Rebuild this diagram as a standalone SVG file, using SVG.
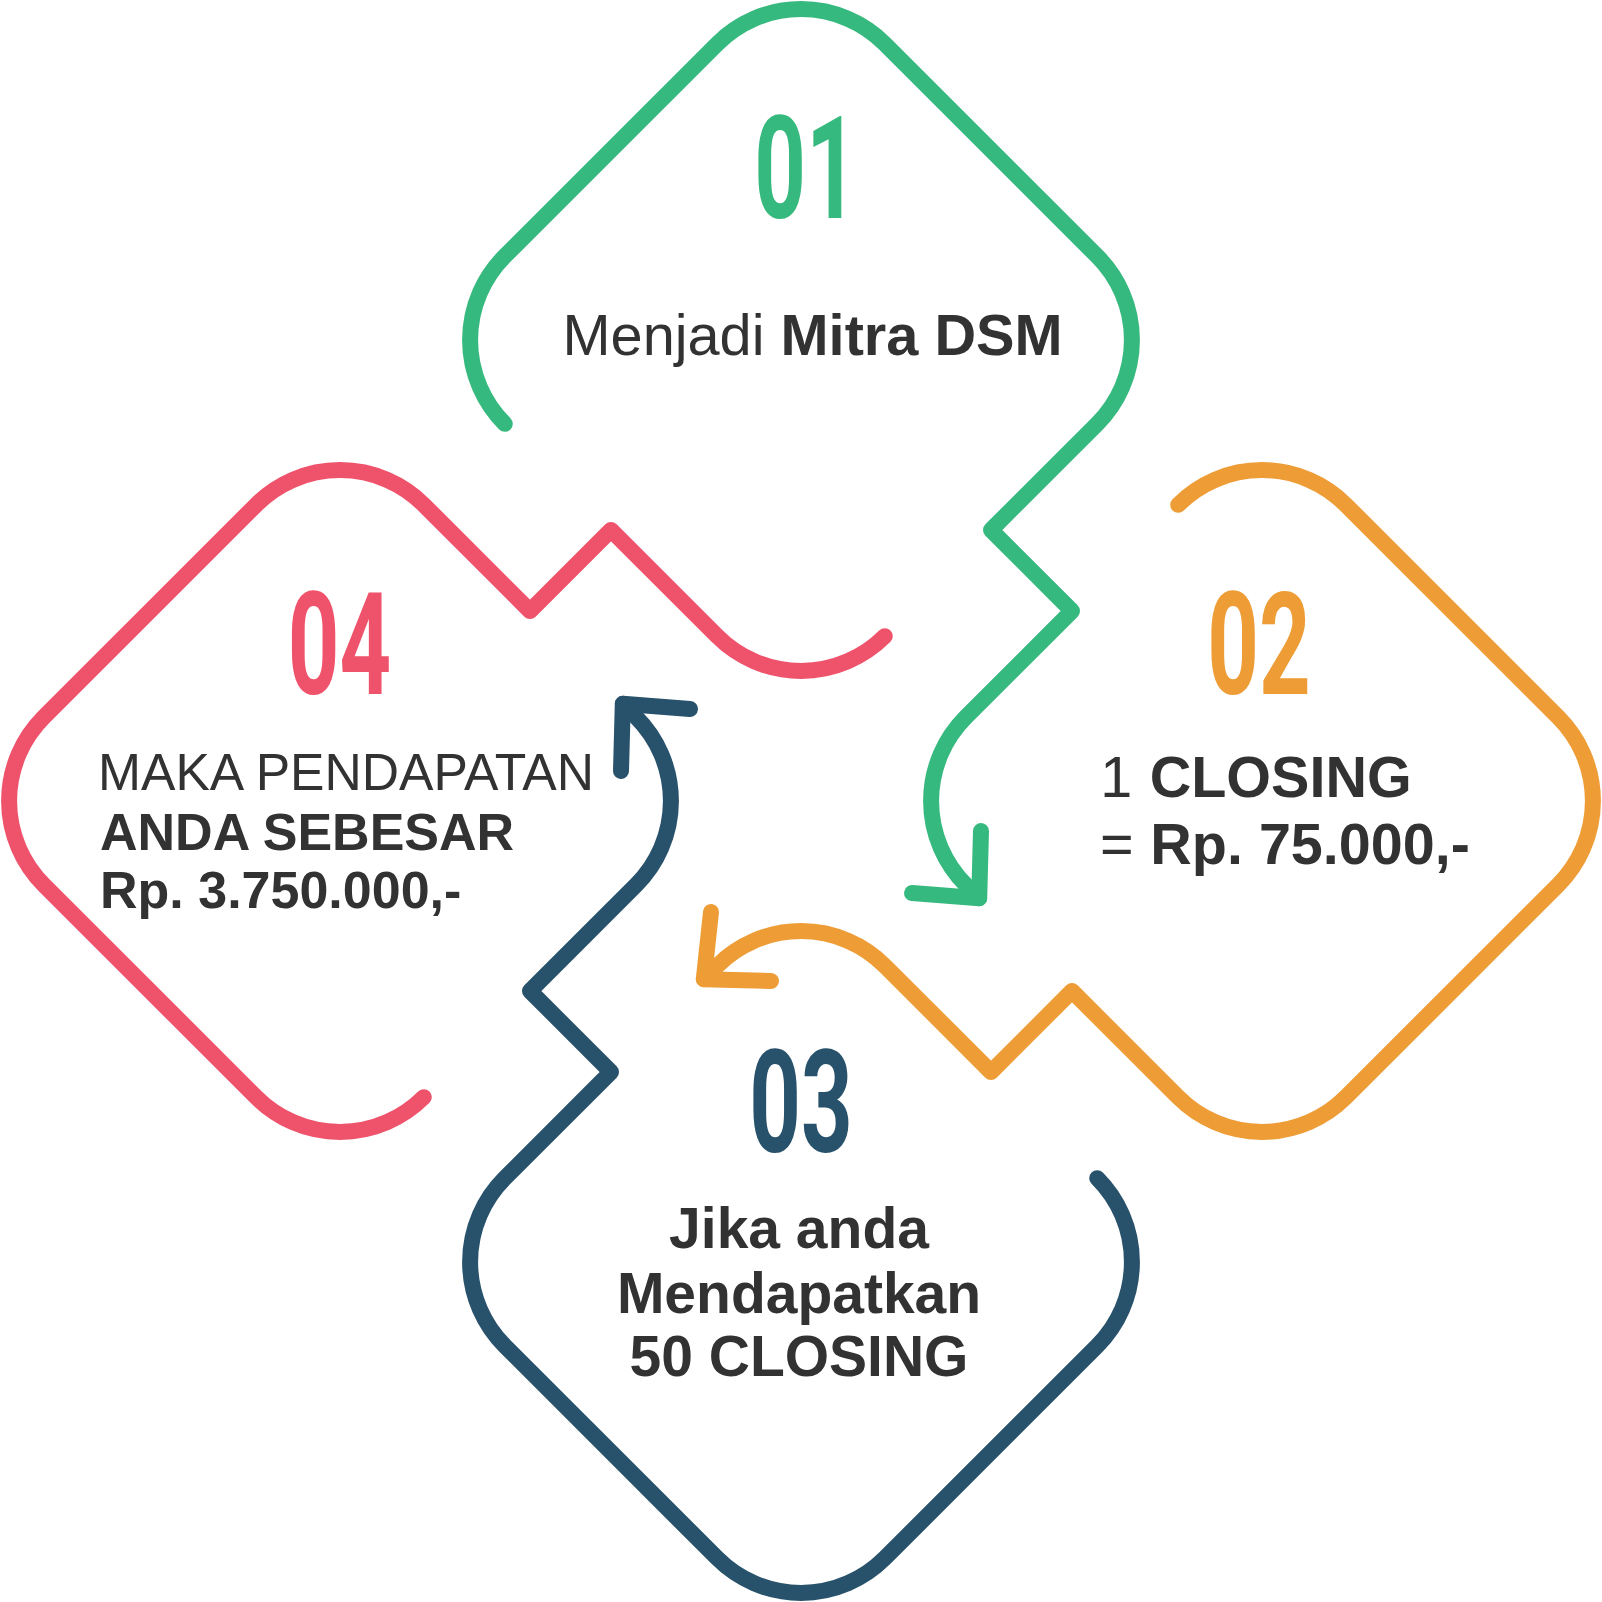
<svg xmlns="http://www.w3.org/2000/svg" width="1602" height="1602" viewBox="0 0 1602 1602">
<style>
.ln{fill:none;stroke-width:16;stroke-linecap:round;stroke-linejoin:round}
.g{stroke:#35B97E}.o{stroke:#EE9C36}.b{stroke:#28526B}.p{stroke:#EF536C}
.num{font-family:Roboto,"Liberation Sans",sans-serif;font-weight:700;font-size:143px;text-anchor:middle}
.t{font-family:"Liberation Sans",Arial,sans-serif;fill:#333232}
.r{font-weight:400}.bd{font-weight:700}
</style>
<rect width="1602" height="1602" fill="#ffffff"/>
<g id="node-01">
<path class="ln g" d="M504.8,423.8 A118.5,118.5 0 0 1 504.8,256.2 L717.2,43.8 A118.5,118.5 0 0 1 884.8,43.8 L1097.2,256.2 A118.5,118.5 0 0 1 1097.2,423.8 L991,530 L1072,611 L965.8,717.2 A118.5,118.5 0 0 0 965.8,884.8 L979.2,898.2"/>
<text class="num" fill="#35B97E" transform="translate(806,218) scale(0.63,1)">01</text>
<text class="t" font-size="57.7" x="562.5" y="354.5"><tspan class="r">Menjadi </tspan><tspan class="bd">Mitra DSM</tspan></text>
</g>
<g id="node-02">
<path class="ln o" d="M1178.2,504.8 A118.5,118.5 0 0 1 1345.8,504.8 L1558.2,717.2 A118.5,118.5 0 0 1 1558.2,884.8 L1345.8,1097.2 A118.5,118.5 0 0 1 1178.2,1097.2 L1072,991 L991,1072 L884.8,965.8 A118.5,118.5 0 0 0 717.2,965.8 L703.8,979.2"/>
<text class="num" fill="#EE9C36" transform="translate(1259,694) scale(0.63,1)">02</text>
<text class="t" font-size="57.5" y="797"><tspan class="r" x="1100.2">1</tspan><tspan class="bd" x="1149.7">CLOSING</tspan></text>
<text class="t" font-size="57.5" y="864"><tspan class="r" x="1100">=</tspan><tspan class="bd" x="1150.3">Rp. 75.000,-</tspan></text>
</g>
<g id="node-03">
<path class="ln b" d="M622.8,703.8 L636.2,717.2 A118.5,118.5 0 0 1 636.2,884.8 L530,991 L611,1072 L504.8,1178.2 A118.5,118.5 0 0 0 504.8,1345.8 L717.2,1558.2 A118.5,118.5 0 0 0 884.8,1558.2 L1097.2,1345.8 A118.5,118.5 0 0 0 1097.2,1178.2"/>
<text class="num" fill="#28526B" transform="translate(801,1152) scale(0.63,1)">03</text>
<g class="t bd" font-size="57" text-anchor="middle">
<text x="799" y="1248">Jika anda</text>
<text x="799" y="1313">Mendapatkan</text>
<text x="799" y="1376">50 CLOSING</text>
</g>
</g>
<g id="node-04">
<path class="ln p" d="M423.8,1097.2 A118.5,118.5 0 0 1 256.2,1097.2 L43.8,884.8 A118.5,118.5 0 0 1 43.8,717.2 L256.2,504.8 A118.5,118.5 0 0 1 423.8,504.8 L530,611 L611,530 L717.2,636.2 A118.5,118.5 0 0 0 884.8,636.2"/>
<text class="num" fill="#EF536C" transform="translate(339.5,694) scale(0.63,1)">04</text>
<text class="t r" font-size="51.6" x="98" y="790">MAKA PENDAPATAN</text>
<text class="t bd" font-size="52" x="100" y="849.5">ANDA SEBESAR</text>
<text class="t bd" font-size="52" x="100" y="908">Rp. 3.750.000,-</text>
</g>
<g id="connectors">
<path class="ln g" d="M981,831 L979.2,898.2 L912,893"/>
<path class="ln o" d="M771,981 L703.8,979.2 L711,912"/>
<path class="ln b" d="M621,771 L622.8,703.8 L690,709"/>
</g>
</svg>
